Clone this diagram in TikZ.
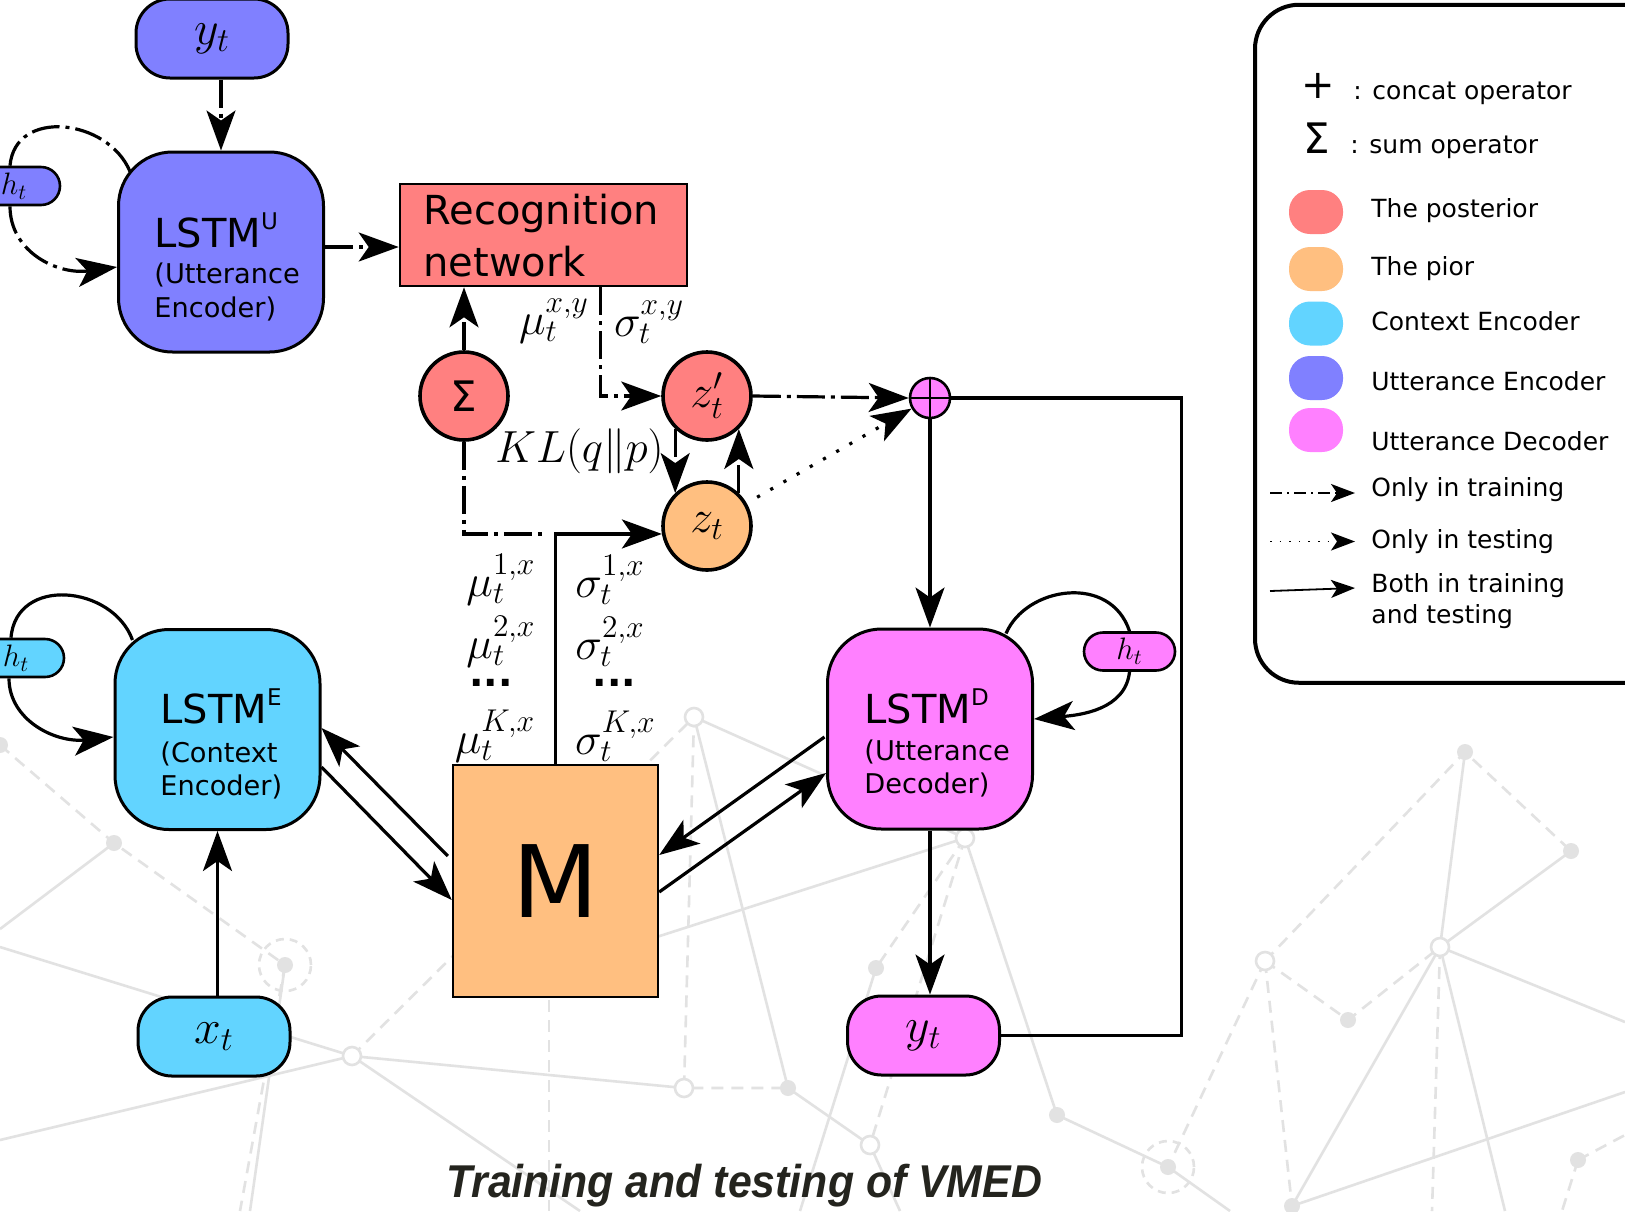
\RequirePackage{fix-cm}
\documentclass[tikz,border=0pt]{standalone}
\usepackage{fontspec}
\usetikzlibrary{arrows.meta,calc}
\newfontfamily\dvsans{DejaVu Sans}
\newfontfamily\libsans{Liberation Sans}[FakeStretch=0.93]
\definecolor{post}{HTML}{FF8080}
\definecolor{prior}{HTML}{FFBF80}
\definecolor{ctx}{HTML}{62D4FF}
\definecolor{uenc}{HTML}{8080FF}
\definecolor{udec}{HTML}{FF80FF}
\definecolor{net}{HTML}{E2E2E2}
\definecolor{titlecol}{HTML}{24241E}
\newcommand\upidx[1]{\raisebox{8.7pt}{\fontsize{11.5}{12}\selectfont #1}}
\tikzset{
  lstmbox/.style={draw, line width=1.5pt, rounded corners=27pt, minimum width=102.5pt, minimum height=100pt, inner sep=0pt},
  pill/.style={draw, line width=1.5pt, rounded corners=17pt, minimum width=76pt, minimum height=39.5pt, inner sep=0pt, font=\fontsize{24}{28}\selectfont},
  hpill/.style={draw, line width=1.3pt, rounded corners=9.5pt, minimum height=19pt, inner sep=0pt, font=\fontsize{15.5}{18}\selectfont},
  var/.style={circle, draw, line width=1.8pt, minimum size=44pt, inner sep=0pt, font=\fontsize{23}{27}\selectfont},
  conn/.style={line width=1.6pt},
  arr/.style={-{Stealth[length=20pt,width=14.5pt,inset=5pt]}},
  train/.style={dash pattern=on 14pt off 3pt on 2pt off 3pt},
  test/.style={dash pattern=on 1.6pt off 6pt},
  bigline/.style={anchor=base west, inner sep=0pt, font=\dvsans\fontsize{20}{24}\selectfont},
  smallline/.style={anchor=base west, inner sep=0pt, font=\dvsans\fontsize{13.6}{16}\selectfont},
  mlabel/.style={inner sep=0pt, font=\fontsize{22.5}{26}\selectfont},
  dotrow/.style={inner sep=0pt, font=\dvsans\bfseries\fontsize{19}{19}\selectfont},
  legtext/.style={anchor=base west, inner sep=0pt, font=\dvsans\fontsize{12.5}{15}\selectfont},
  legpatch/.style={rounded corners=10.5pt, minimum width=27pt, minimum height=22pt, inner sep=0pt},
  legarr/.style={line width=0.9pt, -{Stealth[length=12pt,width=9pt,inset=3pt]}},
  bgline/.style={net, line width=1.3pt},
  bgdash/.style={net, line width=1.3pt, dash pattern=on 6pt off 4pt},
  bgring/.style={circle, draw=net, line width=1.3pt, fill=white, minimum size=9pt, inner sep=0pt},
  bgdot/.style={circle, fill=net, minimum size=8pt, inner sep=0pt},
  bghalo/.style={circle, draw=net, line width=1.3pt, dash pattern=on 4pt off 3pt, minimum size=26pt, inner sep=0pt},
}
\begin{document}
\begin{tikzpicture}[x=0.5pt,y=-0.5pt]
\useasboundingbox (0,0) rectangle (1625,1211);
\fill[white] (0,0) rectangle (1625,1211);

% ---------- faint network pattern in the background ----------
\coordinate (bA) at (0,745);   \coordinate (bB) at (114,843);
\coordinate (bC) at (285,965); \coordinate (bD) at (352,1056);
\coordinate (bE) at (694,717); \coordinate (bF) at (684,1088);
\coordinate (bG) at (788,1088);\coordinate (bH) at (870,1145);
\coordinate (bI) at (965,838); \coordinate (bJ) at (1057,1115);
\coordinate (bK) at (1168,1167);\coordinate (bL) at (1265,961);
\coordinate (bN) at (1440,947);\coordinate (bO) at (1465,752);
\coordinate (bP) at (1571,851);\coordinate (bQ) at (1348,1020);
\coordinate (bR) at (1292,1206);\coordinate (bT) at (1578,1160);
\coordinate (bS) at (876,968);

\draw[bgline] (bB) -- (0,929);
\draw[bgline] (0,947) -- (bD);
\draw[bgline] (0,1140) -- (bD);
\draw[bgline] (bD) -- (580,1211);
\draw[bgline] (bD) -- (bF);
\draw[bgline] (bE) -- (bG);
\draw[bgline] (bE) -- (bI);
\draw[bgline] (560,968) -- (bI);
\draw[bgline] (bG) -- (bH) -- (900,1211);
\draw[bgline] (bI) -- (bJ) -- (bK) -- (1230,1211);
\draw[bgline] (bO) -- (bN) -- (bP);
\draw[bgline] (bN) -- (1625,1022);
\draw[bgline] (bN) -- (bR);
\draw[bgline] (bN) -- (1505,1211);
\draw[bgline] (bR) -- (1625,1092);
\draw[bgline] (bS) -- (800,1211);
\draw[bgline] (bC) -- (250,1211);
\draw[bgdash] (bA) -- (bB) -- (bC) -- (240,1211);
\draw[bgdash] (bD) -- (bE) -- (bF) -- (bG);
\draw[bgdash] (bI) -- (bH);
\draw[bgdash] (bI) -- (bS);
\draw[bgdash] (bL) -- (bO) -- (bP);
\draw[bgdash] (bL) -- (bQ) -- (bN);
\draw[bgdash] (bL) -- (bK);
\draw[bgdash] (bL) -- (bR);
\draw[bgdash] (bN) -- (1432,1211);
\draw[bgdash] (bT) -- (1625,1135);
\draw[bgdash] (bT) -- (1562,1211);
\draw[bgdash] (549,1000) -- (549,1211);
\foreach \p in {bD,bE,bF,bH,bI,bL,bN} \node[bgring] at (\p) {};
\foreach \p in {bA,bB,bG,bJ,bO,bP,bQ,bR,bT,bS,bC,bK} \node[bgdot] at (\p) {};
\foreach \p in {bC,bK} \node[bghalo] at (\p) {};

% ---------- nodes ----------
\node[pill, fill=uenc] (YU) at (212,38.5) {$y_t$};
\node[lstmbox, fill=uenc] (LSTMU) at (221,252) {};
\node[hpill, fill=uenc, minimum width=46pt] (HT1) at (14,186) {$h_t$};
\node[draw, fill=post, line width=1.3pt, minimum width=143.5pt, minimum height=51pt, inner sep=0pt] (REC) at (543.5,235) {};
\node[var, fill=post] (SIG) at (464,396) {\dvsans\fontsize{21}{21}\selectfont Σ};
\node[var, fill=post] (ZP) at (707,396) {$z'_t$};
\node[var, fill=prior] (Z) at (707,526) {$z_t$};
\node[circle, draw, fill=udec, line width=1.3pt, minimum size=20pt, inner sep=0pt] (PLUS) at (930,398) {};
\draw[line width=1.2pt] (PLUS.north) -- (PLUS.south) (PLUS.west) -- (PLUS.east);
\node[lstmbox, fill=ctx] (LSTME) at (217.5,729.5) {};
\node[hpill, fill=ctx, minimum width=48pt] (HT2) at (16,658) {$h_t$};
\node[pill, fill=ctx] (XT) at (214,1036.5) {$x_t$};
\node[draw, fill=prior, line width=1.2pt, minimum width=102.5pt, minimum height=116pt, inner sep=0pt,
      font=\dvsans\fontsize{50}{50}\selectfont] (M) at (555.5,881) {M};
\node[lstmbox, fill=udec] (LSTMD) at (930,729) {};
\node[hpill, fill=udec, minimum width=45.5pt] (HT3) at (1129.5,651.5) {$h_t$};
\node[pill, fill=udec] (YB) at (923.5,1035.5) {$y_t$};

% box captions
\node[bigline]   (tU1) at (154,247) {LSTM\upidx{U}};
\node[smallline] (tU2) at (154,283) {(Utterance};
\node[smallline] (tU3) at (154,317) {Encoder)};
\node[bigline]   (tE1) at (160,723) {LSTM\upidx{E}};
\node[smallline] (tE2) at (160,762) {(Context};
\node[smallline] (tE3) at (160,795) {Encoder)};
\node[bigline]   (tD1) at (864,723) {LSTM\upidx{D}};
\node[smallline] (tD2) at (864,760) {(Utterance};
\node[smallline] (tD3) at (864,793) {Decoder)};
\node[bigline]   (tR1) at (423,224) {Recognition};
\node[bigline]   (tR2) at (423,276) {network};

% distribution parameters
\node[mlabel] (mu0) at (554,321) {$\mu_t^{x,y}$};
\node[mlabel] (sg0) at (649,322) {$\sigma_t^{x,y}$};
\node[mlabel] (kl)  at (579.5,451.5) {$KL(q\|p)$};
\node[mlabel] (mu1) at (501,580) {$\mu_t^{1,x}$};
\node[mlabel] (sg1) at (610,580) {$\sigma_t^{1,x}$};
\node[mlabel] (mu2) at (501,642) {$\mu_t^{2,x}$};
\node[mlabel] (sg2) at (610,642) {$\sigma_t^{2,x}$};
\node[dotrow] (dl) at (491,683) {...};
\node[dotrow] (dr) at (614.5,683) {...};
\node[mlabel] (muK) at (495,736) {$\mu_t^{K,x}$};
\node[mlabel] (sgK) at (615.5,736) {$\sigma_t^{K,x}$};

% ---------- connectors ----------
\draw[conn,train,arr] (LSTMU.north |- YU.south) -- (LSTMU.north);
\draw[conn,train,arr] ($(LSTMU.east)+(0,-5)$) coordinate (u2r) -- (u2r -| REC.west);
\draw[conn,train,arr] (SIG.north) -- (SIG.north |- REC.south);
\draw[conn,train,arr] ($(REC.south)+(57,0)$) |- (ZP.west);
\draw[conn,train,arr] (ZP.east) -- (PLUS.west);
\draw[conn,train,arr] (ZP.226) -- (Z.134);
\draw[conn,train,arr] (Z.46) -- (ZP.314);
\draw[conn,train] (SIG.south) |- ($(M.north |- Z.190)+(-8,0)$);
\draw[conn,test,arr,shorten <=6pt] (Z) -- (PLUS);
\draw[conn,arr] (PLUS.south) -- (PLUS.south |- LSTMD.north);
\draw[conn] (YB.east) -- ++(180.5,0) |- (PLUS.east);
\draw[conn,arr] (LSTMD.south) -- (LSTMD.south |- YB.north);
\draw[conn,arr] (LSTME.south |- XT.north) -- (LSTME.south);
\draw[conn,arr] (M.north) |- (Z.190);
\draw[conn,arr] ($(M.west)+(-4,-25)$) -- ($(LSTME.east)+(0,-1.5)$);
\draw[conn,arr] ($(LSTME.east)+(0,37.5)$) -- ($(M.west)+(0,19)$);
\draw[conn,arr] ($(LSTMD.west)+(-1.5,8)$) -- ($(M.east)+(0,-26)$);
\draw[conn,arr] ($(M.east)+(0,11)$) -- ($(LSTMD.west)+(0,44)$);

% recurrent loops through the hidden states
\draw[conn,train] ($(LSTMU.north west)+(13,21)$) .. controls +(-22,-53) and +(5,-58) .. ($(HT1.north)+(-4,0)$);
\draw[conn,train,arr] ($(HT1.south)+(-4,0)$) .. controls +(0,46) and +(-59,8) .. ($(LSTMU.west)+(0,15)$);
\draw[conn] ($(LSTME.north west)+(19,12)$) .. controls +(-20,-55) and +(5,-62) .. ($(HT2.north)+(-5,0)$);
\draw[conn,arr] ($(HT2.south)+(-7,0)$) .. controls +(0,42) and +(-58,6) .. ($(LSTME.west)+(0,7.5)$);
\draw[conn] ($(LSTMD.north east)+(-28,6)$) .. controls +(20,-47) and +(-19,-58) .. (HT3.north);
\draw[conn,arr] (HT3.south) .. controls +(-4,38) and +(46,-4) .. ($(LSTMD.east)+(0,-10)$);

% ---------- legend ----------
\node[draw, line width=2pt, rounded corners=22pt, minimum width=215pt, minimum height=339pt, inner sep=0pt] (LEG) at (1470,343.75) {};
\node[inner sep=0pt, font=\dvsans\fontsize{20}{20}\selectfont] (LP) at (1318,86) {+};
\node[inner sep=0pt, font=\dvsans\fontsize{21}{21}\selectfont] (LS) at (1317,138) {Σ};
\node[legtext] (lt0) at (1353,99) {:\hspace{5.3pt}concat operator};
\node[legtext] (lt1) at (1350,153) {:\hspace{5.3pt}sum operator};
\node[legpatch, fill=post]  (P1) at (1316,212) {};
\node[legpatch, fill=prior] (P2) at (1316,269) {};
\node[legpatch, fill=ctx]   (P3) at (1316,323.5) {};
\node[legpatch, fill=uenc]  (P4) at (1316,378) {};
\node[legpatch, fill=udec]  (P5) at (1316,430) {};
\node[legtext] (lt2) at (1371,217) {The posterior};
\node[legtext] (lt3) at (1371,275) {The pior};
\node[legtext] (lt4) at (1371,330) {Context Encoder};
\node[legtext] (lt5) at (1371,390.5) {Utterance Encoder};
\node[legtext] (lt6) at (1371,450) {Utterance Decoder};
\node[legtext] (lt7) at (1371,496) {Only in training};
\node[legtext] (lt8) at (1371,548) {Only in testing};
\node[legtext] (lt9) at (1371,592) {Both in training};
\node[legtext] (lt10) at (1371,623.5) {and testing};
\coordinate (la1) at (1270,493);   \coordinate (lb1) at (1355,493);
\coordinate (la2) at (1270,541.5); \coordinate (lb2) at (1355,541.5);
\coordinate (la3) at (1270,591);   \coordinate (lb3) at (1355,588);
\draw[legarr, dash pattern=on 6pt off 2.5pt on 1pt off 2.5pt] (la1) -- (lb1);
\draw[legarr, dash pattern=on 0.8pt off 4pt] (la2) -- (lb2);
\draw[legarr] (la3) -- (lb3);

% ---------- caption ----------
\node[anchor=base, inner sep=0pt, text=titlecol, font=\libsans\bfseries\itshape\fontsize{23}{27}\selectfont] (TTL) at (744,1197) {Training and testing of VMED};
\end{tikzpicture}
\end{document}
